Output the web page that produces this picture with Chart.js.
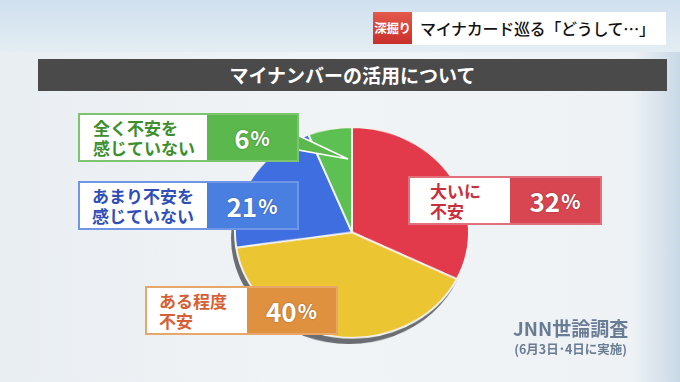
<!DOCTYPE html>
<html lang="ja">
<head>
<meta charset="utf-8">
<script src="https://cdn.jsdelivr.net/npm/chart.js@4/dist/chart.umd.min.js"></script>
<style>
  html, body { margin: 0; padding: 0; }
  body {
    width: 680px; height: 382px; overflow: hidden; position: relative;
    font-family: "Noto Sans CJK JP", "Noto Sans", sans-serif;
    background: linear-gradient(90deg, #e9eef2 0%, #f1f4f6 50%, #eef2f5 93%, #c9d8e6 100%);
  }
  .topstrip { position: absolute; left: 0; top: 0; width: 680px; height: 52px;
    background: linear-gradient(180deg, #cfe0ee 0%, #e4edf3 100%); }
  .tag { position: absolute; left: 373px; top: 12px; width: 39px; height: 32px;
    background: linear-gradient(180deg, #e35a4a, #c92f2c); color: #fff; font-weight: 700;
    font-size: 12.5px; line-height: 32px; text-align: center; letter-spacing: -0.3px;
    white-space: nowrap; }
  .headline { position: absolute; left: 412px; top: 12px; width: 254px; height: 33px;
    background: #fff; color: #111; font-size: 16px; line-height: 33px; padding-left: 8px;
    box-sizing: border-box; font-weight: 500; white-space: nowrap; letter-spacing: -0.3px; }
  .title { position: absolute; left: 38px; top: 59px; width: 629px; height: 32px;
    background: #4a4a4a; color: #fff; font-weight: 700; font-size: 19px; line-height: 32px;
    text-align: center; }
  #pieBox { position: absolute; left: 230px; top: 114px; width: 244px; height: 244px;
    transform: scaleY(0.9); transform-origin: 50% 50%; }
  .lbl { position: absolute; display: flex; height: 49px; box-sizing: border-box;
    border: 2px solid; }
  .lbl .name { background: #fff; font-weight: 700; font-size: 17px; line-height: 20px;
    display: flex; align-items: center; box-sizing: border-box; white-space: nowrap; }
  .lbl .pct { color: #fff; font-weight: 700; font-size: 26px; display: flex;
    align-items: center; justify-content: center;
    text-shadow: 0 0 2px rgba(0,0,0,0.35); }
  .pct small { font-size: 20px; margin-left: 1px; }
  .src { position: absolute; left: 513px; top: 316px; color: #6a7c93; font-weight: 700;
    text-align: center; }
  .src .a { font-size: 19px; line-height: 24px; }
  .src .b { font-size: 12.5px; line-height: 18px; }
  svg.ptr { position: absolute; left: 0; top: 0; }
</style>
</head>
<body>
<div class="topstrip"></div>
<div class="tag">深掘り</div>
<div class="headline">マイナカード巡る「どうして…」</div>
<div class="title">マイナンバーの活用について</div>

<div id="pieBox"><canvas id="pie"></canvas></div>

<svg class="ptr" width="680" height="382">
  <polygon points="293,133 348,159 293,149" fill="#5bb84c" stroke="#ffffff" stroke-width="1.5"/>
</svg>

<div id="labels"></div>

<div class="src">
  <div class="a">JNN世論調査</div>
  <div class="b">(6月3日･4日に実施)</div>
</div>

<script>
// clockwise from 12 o'clock
const categories = ["大いに不安", "ある程度不安", "あまり不安を感じていない", "全く不安を感じていない"];
const values = [32, 40, 21, 6];
const sliceColors = ["#e23a4a", "#ecc532", "#3f6ee0", "#5cc152"];

// label boxes: line breaks as shown on screen
const labelLines = [["大いに", "不安"], ["ある程度", "不安"], ["あまり不安を", "感じていない"], ["全く不安を", "感じていない"]];
const labelText = ["#c8303e", "#d65f35", "#2f4fb8", "#3c8f2c"];
const labelFill = ["#d84651", "#e0913f", "#4a7fe2", "#5bb84c"];
const labelBorder = ["#e0707a", "#e6a76a", "#6e95e6", "#7cc56e"];
const labelBoxes = [
  { left: 408, top: 176, nameW: 100, pctW: 90, pad: 20 },
  { left: 145, top: 286, nameW: 100, pctW: 89, pad: 12 },
  { left: 78, top: 181, nameW: 127, pctW: 90, pad: 12 },
  { left: 78, top: 113, nameW: 127, pctW: 90, pad: 13 },
];

const holder = document.getElementById("labels");
categories.forEach((c, i) => {
  const b = labelBoxes[i];
  const el = document.createElement("div");
  el.className = "lbl";
  el.style.left = b.left + "px";
  el.style.top = b.top + "px";
  el.style.borderColor = labelBorder[i];
  el.innerHTML =
    `<div class="name" style="width:${b.nameW}px;padding-left:${b.pad}px;color:${labelText[i]}"><div>${labelLines[i].join("<br>")}</div></div>` +
    `<div class="pct" style="width:${b.pctW}px;background:${labelFill[i]}">${values[i]}<small>%</small></div>`;
  holder.appendChild(el);
});

const shadowPlugin = {
  id: "pieShadow",
  beforeDatasetsDraw(chart) {
    const arc = chart.getDatasetMeta(0).data[0];
    if (!arc) return;
    const ctx = chart.ctx;
    ctx.save();
    ctx.beginPath();
    ctx.arc(arc.x - 3, arc.y + 6, arc.outerRadius + 1, 0, Math.PI * 2);
    ctx.fillStyle = "#6a6d71";
    ctx.fill();
    ctx.restore();
  },
};

new Chart(document.getElementById("pie"), {
  type: "pie",
  data: {
    labels: categories,
    datasets: [{
      data: values,
      backgroundColor: sliceColors,
      borderColor: "#f3f3f0",
      borderWidth: 2,
    }],
  },
  options: {
    responsive: true,
    maintainAspectRatio: false,
    animation: false,
    layout: { padding: { left: 2, right: 2, top: 0, bottom: 8 } },
    plugins: { legend: { display: false }, tooltip: { enabled: false } },
  },
  plugins: [shadowPlugin],
});
</script>
</body>
</html>
